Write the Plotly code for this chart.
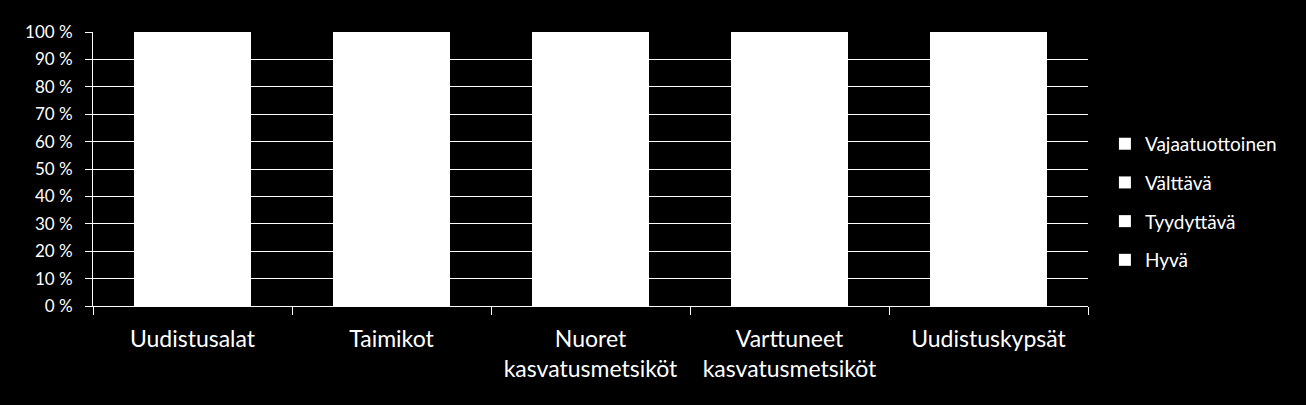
import plotly.graph_objects as go

categories = ["Uudistusalat", "Taimikot", "Nuoret<br>kasvatusmetsiköt",
              "Varttuneet<br>kasvatusmetsiköt", "Uudistuskypsät"]
hyva = [45, 55, 50, 48, 42]
tyydyttava = [30, 28, 30, 32, 33]
valttava = [15, 12, 13, 13, 16]
vajaatuottoinen = [10, 5, 7, 7, 9]

series = [("Hyvä", hyva), ("Tyydyttävä", tyydyttava),
          ("Välttävä", valttava), ("Vajaatuottoinen", vajaatuottoinen)]

FONT = "Lato"

fig = go.Figure()
n = len(series)
for i, (name, vals) in enumerate(series):
    fig.add_trace(go.Bar(
        x=categories, y=vals, name=name, legendgroup=name,
        legendrank=1000 + (n - i),
        marker=dict(color="#FFFFFF", line=dict(width=0)),
    ))

fig.update_layout(
    width=1306, height=405,
    paper_bgcolor="#000000", plot_bgcolor="#000000",
    barmode="stack", barnorm="percent", bargap=0.417,
    margin=dict(l=93, r=218, t=32, b=99),
    font=dict(family=FONT, color="#FFFFFF"),
    showlegend=True,
    legend=dict(
        x=1.017, xanchor="left", y=0.38, yanchor="middle",
        traceorder="grouped", tracegroupgap=11,
        font=dict(family=FONT, size=19, color="#FFFFFF"),
        bgcolor="rgba(0,0,0,0)", borderwidth=0,
    ),
    xaxis=dict(
        type="category", tickson="boundaries", ticks="outside", ticklen=8,
        tickcolor="#FFFFFF", tickwidth=1,
        showline=True, linecolor="#FFFFFF", linewidth=1,
        showgrid=False, ticklabelstandoff=12,
        tickfont=dict(family=FONT, size=23, color="#FFFFFF"),
    ),
    yaxis=dict(
        range=[0, 100], dtick=10, ticksuffix=" %",
        ticks="outside", ticklen=7, tickcolor="#FFFFFF", tickwidth=1,
        showline=True, linecolor="#FFFFFF", linewidth=1,
        showgrid=True, gridcolor="#FFFFFF", gridwidth=1,
        zeroline=False, ticklabelstandoff=9,
        tickfont=dict(family=FONT, size=17, color="#FFFFFF"),
    ),
)

fig.write_html(
    "out.html",
    config={"displayModeBar": False},
    post_script="document.body.style.margin='0';document.body.style.background='#000';"
                "document.documentElement.style.background='#000';",
)
